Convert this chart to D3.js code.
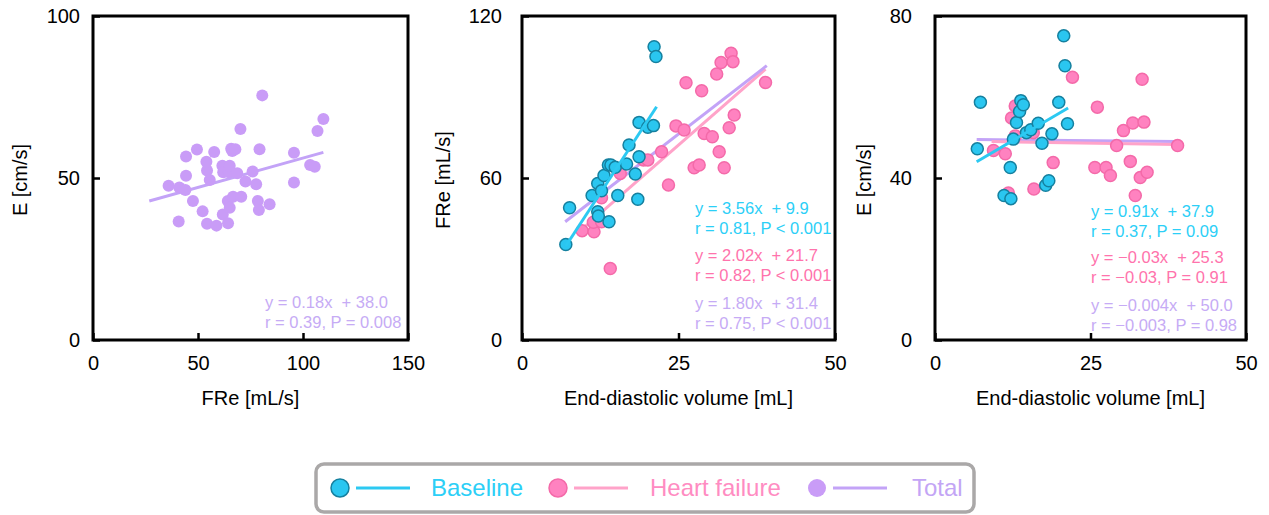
<!DOCTYPE html>
<html>
<head>
<meta charset="utf-8">
<title>FRe and E vs end-diastolic volume</title>
<script src="https://cdn.jsdelivr.net/npm/d3@7"></script>
<style>
  body { margin: 0; background: #fff; }
  svg text { font-family: "Liberation Sans", Arial, sans-serif; white-space: pre; }
</style>
</head>
<body>
<script>
// panel 1: total, FRe vs E
var p1TotalX = [36.0, 41.1, 44.0, 44.3, 44.3, 47.6, 49.5, 40.8, 52.2, 54.0, 54.3, 55.6, 54.3, 57.7, 58.8,
  61.6, 62.0, 61.8, 64.3, 64.7, 65.1, 64.2, 65.1, 65.8, 66.3, 67.8, 66.7, 68.7, 70.2, 70.6, 72.6, 76.0,
  77.7, 78.5, 79.0, 79.3, 80.6, 84.1, 95.7, 95.7, 103.4, 105.6, 106.9, 109.7];
var p1TotalY = [47.6, 47.1, 46.3, 56.6, 50.7, 42.9, 58.8, 36.6, 39.7, 55.0, 52.3, 49.4, 35.9, 58.0, 35.3,
  53.8, 51.8, 38.7, 36.0, 51.8, 53.8, 42.9, 40.8, 59.0, 58.3, 58.9, 44.2, 51.5, 65.1, 44.2, 48.9, 52.0,
  48.1, 42.9, 40.1, 58.9, 75.5, 41.9, 57.8, 48.6, 54.0, 53.5, 64.5, 68.2];

// panel 2: EDV vs FRe
var p2BaseX = [7.0, 7.6, 11.2, 12.1, 12.7, 12.1, 12.2, 13.1, 13.9, 13.8, 14.2, 14.9, 15.3, 16.7, 17.1,
  18.1, 18.5, 18.7, 18.7, 20.1, 21.0, 21.1, 21.4];
var p2BaseY = [35.4, 49.0, 53.5, 58.0, 55.3, 47.5, 45.9, 60.9, 43.8, 64.8, 64.8, 64.0, 53.5, 65.2, 72.2,
  61.5, 52.1, 67.9, 80.6, 78.8, 79.4, 108.6, 105.0];
var p2HfX = [9.6, 11.5, 11.4, 12.7, 12.7, 14.1, 15.7, 19.4, 20.1, 22.3, 23.4, 24.6, 25.9, 26.2, 27.5,
  28.3, 28.7, 29.1, 30.4, 31.1, 31.5, 31.8, 32.3, 33.1, 33.4, 33.7, 33.9, 38.9];
var p2HfY = [40.5, 40.1, 43.6, 43.8, 52.7, 26.5, 61.7, 66.7, 66.7, 69.7, 57.4, 79.3, 77.8, 95.3, 63.8,
  64.8, 92.3, 76.5, 75.3, 98.5, 69.7, 102.8, 63.8, 78.6, 106.2, 103.1, 83.3, 95.4];

// panel 3: EDV vs E
var p3BaseX = [6.8, 7.3, 11.1, 12.2, 12.1, 12.6, 13.1, 13.6, 13.8, 14.2, 14.7, 15.4, 16.6, 17.2, 17.8,
  18.3, 18.8, 19.9, 20.7, 20.9, 21.3];
var p3BaseY = [47.2, 58.7, 35.7, 34.9, 42.6, 49.6, 53.7, 56.4, 59.1, 58.1, 51.2, 51.9, 53.5, 48.6, 38.2,
  39.3, 50.9, 58.7, 75.1, 67.7, 53.4];
var p3HfX = [9.4, 11.3, 11.8, 12.9, 12.3, 12.9, 15.8, 15.9, 19.0, 22.1, 25.7, 26.1, 27.5, 28.2, 29.2,
  30.3, 31.4, 31.8, 32.2, 33.0, 33.3, 33.6, 34.1, 39.0];
var p3HfY = [46.8, 46.0, 36.3, 57.8, 54.8, 50.4, 51.2, 37.3, 43.8, 64.9, 42.6, 57.5, 42.6, 40.6, 48.0,
  51.7, 44.1, 53.6, 35.7, 40.1, 64.4, 53.8, 41.4, 48.0];

// fit line end points
var p1TotalFit = {x: [26.8, 109.7], y: [42.9, 57.9]};
var p2BaseFit = {x: [7.0, 21.5], y: [34.8, 86.4]};
var p2HfFit = {x: [9.6, 38.9], y: [41.1, 100.3]};
var p2TotalFit = {x: [6.9, 39.1], y: [43.8, 101.6]};
var p3BaseFit = {x: [6.7, 21.4], y: [44.0, 57.3]};
var p3HfFit = {x: [9.1, 38.9], y: [49.0, 48.3]};
var p3TotalFit = {x: [6.7, 38.9], y: [49.5, 49.0]};

// statistics text
var p1Stats = ["y = 0.18x  + 38.0", "r = 0.39, P = 0.008"];
var p2Stats = ["y = 3.56x  + 9.9", "r = 0.81, P < 0.001", "y = 2.02x  + 21.7", "r = 0.82, P < 0.001",
  "y = 1.80x  + 31.4", "r = 0.75, P < 0.001"];
var p3Stats = ["y = 0.91x  + 37.9", "r = 0.37, P = 0.09", "y = \u22120.03x  + 25.3", "r = \u22120.03, P = 0.91",
  "y = \u22120.004x  + 50.0", "r = \u22120.003, P = 0.98"];

var xTicks1 = [0, 50, 100, 150], yTicks1 = [0, 50, 100];
var xTicks2 = [0, 25, 50], yTicks2 = [0, 60, 120];
var xTicks3 = [0, 25, 50], yTicks3 = [0, 40, 80];

var legendNames = ["Baseline", "Heart failure", "Total"];

var col = {
  base: {fill: "#2ac6f0", stroke: "#15809f", line: "#2cc9f2", text: "#2ccff7"},
  hf: {fill: "#ff82c0", stroke: "#f46aa9", line: "#ffa3c9", text: "#ff73ac"},
  total: {fill: "#c99cf7", stroke: "none", line: "#c3a3f7", text: "#c6abf5"}
};

var svg = d3.select("body").append("svg")
  .attr("width", 1269)
  .attr("height", 515);

function zip(xs, ys) {
  return xs.map(function(d, i) { return [d, ys[i]]; });
}

function panel(opt) {
  var x = d3.scaleLinear().domain(opt.xDomain).range([opt.left, opt.right]);
  var y = d3.scaleLinear().domain(opt.yDomain).range([340, 16]);
  var g = svg.append("g");

  // ticks inside the frame
  g.append("g")
    .attr("transform", "translate(0,340)")
    .call(d3.axisBottom(x).tickValues(opt.xTicks).tickSize(-7).tickPadding(14))
    .call(function(a) {
      a.select(".domain").remove();
      a.selectAll("line").attr("stroke", "#000").attr("stroke-width", 2.5);
      a.selectAll("text").attr("font-size", 20).attr("fill", "#000").attr("dy", "0.8em");
    });
  g.append("g")
    .attr("transform", "translate(" + opt.left + ",0)")
    .call(d3.axisLeft(y).tickValues(opt.yTicks).tickSize(-7).tickPadding(opt.yPad))
    .call(function(a) {
      a.select(".domain").remove();
      a.selectAll("line").attr("stroke", "#000").attr("stroke-width", 2.5);
      a.selectAll("text").attr("font-size", 20).attr("fill", "#000");
    });

  var line = d3.line()
    .x(function(d) { return x(d[0]); })
    .y(function(d) { return y(d[1]); });

  function fit(f, c) {
    g.append("path")
      .datum(zip(f.x, f.y))
      .attr("d", line)
      .attr("fill", "none")
      .attr("stroke", c.line)
      .attr("stroke-width", 3);
  }

  function dots(xs, ys, c) {
    g.selectAll(null)
      .data(zip(xs, ys))
      .enter()
      .append("circle")
      .attr("cx", function(d) { return x(d[0]); })
      .attr("cy", function(d) { return y(d[1]); })
      .attr("r", 6)
      .attr("fill", c.fill)
      .attr("stroke", c.stroke)
      .attr("stroke-width", 1.5);
  }

  opt.under.forEach(function(f) { fit(f[0], f[1]); });
  opt.dots.forEach(function(d) { dots(d[0], d[1], d[2]); });
  opt.over.forEach(function(f) { fit(f[0], f[1]); });

  // frame
  g.append("rect")
    .attr("x", opt.left)
    .attr("y", 16)
    .attr("width", opt.right - opt.left)
    .attr("height", 324)
    .attr("fill", "none")
    .attr("stroke", "#000")
    .attr("stroke-width", 3);

  g.selectAll(null)
    .data(opt.stats)
    .enter()
    .append("text")
    .attr("x", opt.statX)
    .attr("y", function(d, i) { return opt.statY[i]; })
    .attr("dy", "0.35em")
    .attr("font-size", 16.5)
    .attr("fill", function(d, i) { return opt.statCol[i]; })
    .text(function(d) { return d; });

  g.append("text")
    .attr("x", (opt.left + opt.right) / 2)
    .attr("y", 398)
    .attr("dy", "0.35em")
    .attr("text-anchor", "middle")
    .attr("font-size", 20)
    .text(opt.xLabel);

  g.append("text")
    .attr("transform", "translate(" + opt.yLabelX + ",180) rotate(-90)")
    .attr("dy", "0.35em")
    .attr("text-anchor", "middle")
    .attr("font-size", 20)
    .text(opt.yLabel);
}

panel({
  left: 93, right: 408, xDomain: [0, 150], yDomain: [0, 100],
  xTicks: xTicks1, yTicks: yTicks1, yPad: 13,
  xLabel: "FRe [mL/s]", yLabel: "E [cm/s]", yLabelX: 20,
  under: [[p1TotalFit, col.total]],
  dots: [[p1TotalX, p1TotalY, col.total]],
  over: [],
  stats: p1Stats, statX: 265, statY: [302, 322],
  statCol: [col.total.text, col.total.text]
});

panel({
  left: 522, right: 835, xDomain: [0, 50], yDomain: [0, 120],
  xTicks: xTicks2, yTicks: yTicks2, yPad: 20,
  xLabel: "End-diastolic volume [mL]", yLabel: "FRe [mL/s]", yLabelX: 443,
  under: [[p2HfFit, col.hf], [p2TotalFit, col.total]],
  dots: [[p2HfX, p2HfY, col.hf], [p2BaseX, p2BaseY, col.base]],
  over: [[p2BaseFit, col.base]],
  stats: p2Stats, statX: 695, statY: [208, 228, 255, 275, 303, 323],
  statCol: [col.base.text, col.base.text, col.hf.text, col.hf.text, col.total.text, col.total.text]
});

panel({
  left: 935, right: 1246, xDomain: [0, 50], yDomain: [0, 80],
  xTicks: xTicks3, yTicks: yTicks3, yPad: 23,
  xLabel: "End-diastolic volume [mL]", yLabel: "E [cm/s]", yLabelX: 864,
  under: [[p3TotalFit, col.total], [p3HfFit, col.hf]],
  dots: [[p3HfX, p3HfY, col.hf], [p3BaseX, p3BaseY, col.base]],
  over: [[p3BaseFit, col.base]],
  stats: p3Stats, statX: 1091, statY: [211, 231, 257, 277, 305, 325],
  statCol: [col.base.text, col.base.text, col.hf.text, col.hf.text, col.total.text, col.total.text]
});

// legend
var legend = svg.append("g");
legend.append("rect")
  .attr("x", 316)
  .attr("y", 464)
  .attr("width", 658)
  .attr("height", 48)
  .attr("rx", 8)
  .attr("fill", "#fff")
  .attr("stroke", "#aaa8a8")
  .attr("stroke-width", 3.5);

var legendCols = [col.base, col.hf, col.total];
var legendDotX = [340, 558, 817];
var legendTextX = [431, 650, 912];
var legendTextCol = ["#2ccff7", "#ff8cc2", "#c3a5f5"];

legendNames.forEach(function(name, i) {
  var c = legendCols[i];
  legend.append("circle")
    .attr("cx", legendDotX[i])
    .attr("cy", 488)
    .attr("r", 9)
    .attr("fill", c.fill)
    .attr("stroke", c.stroke)
    .attr("stroke-width", 1.5);
  legend.append("line")
    .attr("x1", legendDotX[i] + 16)
    .attr("x2", legendDotX[i] + 70)
    .attr("y1", 488)
    .attr("y2", 488)
    .attr("stroke", c.line)
    .attr("stroke-width", 3);
  legend.append("text")
    .attr("x", legendTextX[i])
    .attr("y", 488)
    .attr("dy", "0.35em")
    .attr("font-size", 24)
    .attr("fill", legendTextCol[i])
    .text(name);
});
</script>
</body>
</html>
